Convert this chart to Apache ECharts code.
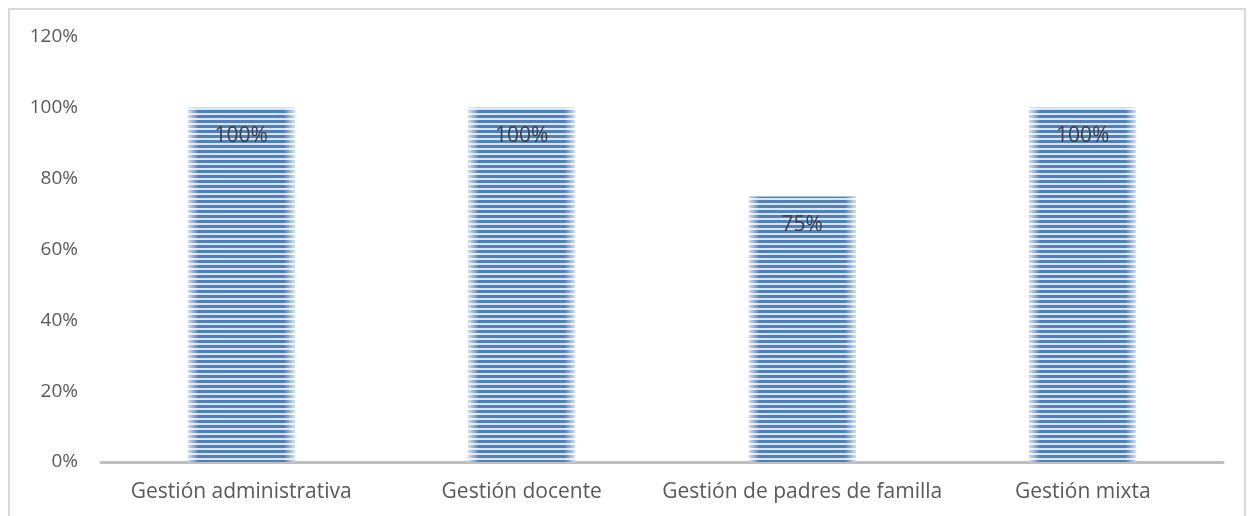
<!DOCTYPE html>
<html>
<head>
<meta charset="utf-8">
<script src="https://cdn.jsdelivr.net/npm/echarts@6/dist/echarts.min.js"></script>
<style>
html,body{margin:0;padding:0;background:#fff;}
#frame{position:absolute;left:8px;top:8px;width:1238px;height:520px;border:2px solid #d9d9d9;box-sizing:border-box;}
#chart{position:absolute;left:0;top:0;width:1248px;height:516px;}
</style>
</head>
<body>
<div id="frame"></div>
<div id="chart"></div>
<script>
const categories = ['Gestión administrativa', 'Gestión docente', 'Gestión de padres de familla', 'Gestión mixta'];
const values = [1.00, 1.00, 0.75, 1.00];
const yTicks = [0, 0.2, 0.4, 0.6, 0.8, 1.0, 1.2];

function stripePattern() {
  const c = document.createElement('canvas');
  c.width = 8; c.height = 5;
  const g = c.getContext('2d');
  g.fillStyle = '#dbe5f1';
  g.fillRect(0, 0, 8, 5);
  g.fillStyle = '#4f81bd';
  g.fillRect(0, 0, 8, 3);
  return c;
}

const chart = echarts.init(document.getElementById('chart'), null, {renderer: 'canvas'});
const font = '"Open Sans", Lato, sans-serif';
chart.setOption({
  animation: false,
  grid: {left: 101, right: 25, top: 37, bottom: 54},
  xAxis: {
    type: 'category',
    data: categories,
    axisLine: {lineStyle: {color: '#bfbfbf', width: 3}},
    axisTick: {show: false},
    axisLabel: {color: '#595959', fontSize: 21, fontFamily: font, margin: 20, interval: 0}
  },
  yAxis: {
    type: 'value',
    min: yTicks[0],
    max: yTicks[yTicks.length - 1],
    interval: 0.2,
    axisLine: {show: false},
    axisTick: {show: false},
    splitLine: {show: false},
    axisLabel: {
      color: '#595959', fontSize: 19, fontFamily: font, margin: 23,
      formatter: v => Math.round(v * 100) + '%'
    }
  },
  series: [
    {
      type: 'bar',
      data: values,
      barWidth: '38%',
      itemStyle: {color: {image: stripePattern(), repeat: 'repeat'}},
      label: {
        show: true,
        position: 'insideTop',
        distance: 18,
        color: '#404040',
        fontSize: 21,
        fontFamily: font,
        formatter: p => Math.round(p.value * 100) + '%'
      },
      z: 2
    },
    {
      type: 'bar',
      data: values,
      barWidth: '38%',
      barGap: '-100%',
      silent: true,
      itemStyle: {
        color: {
          type: 'linear', x: 0, y: 0, x2: 1, y2: 0,
          colorStops: [
            {offset: 0, color: 'rgba(255,255,255,0.75)'},
            {offset: 0.1, color: 'rgba(255,255,255,0)'},
            {offset: 0.9, color: 'rgba(255,255,255,0)'},
            {offset: 1, color: 'rgba(255,255,255,0.75)'}
          ]
        }
      },
      z: 3
    }
  ]
});
</script>
</body>
</html>
